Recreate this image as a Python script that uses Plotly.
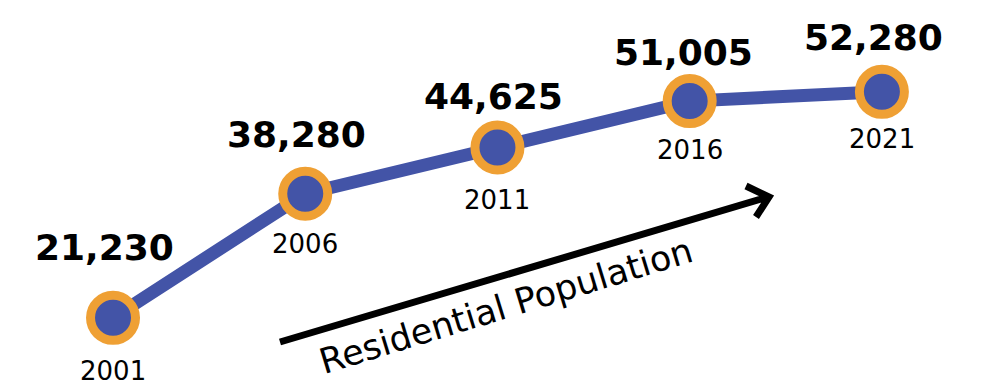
import plotly.graph_objects as go

years = [2001, 2006, 2011, 2016, 2021]
population = [21230, 38280, 44625, 51005, 52280]
value_labels = ["21,230", "38,280", "44,625", "51,005", "52,280"]
year_labels = ["2001", "2006", "2011", "2016", "2021"]

# label offsets (pixels) relative to each marker
value_yshift = [70, 59, 51, 49, 54]
value_xshift = [-9, -9, -4, -6, -8]
year_yshift = [-53, -50, -52, -49, -47]

W, H = 988, 388
BLUE = "#4354A7"
ORANGE = "#EFA034"
FONT = "DejaVu Sans"

fig = go.Figure()
fig.add_trace(go.Scatter(
    x=years, y=population, mode="lines+markers",
    line=dict(color=BLUE, width=13),
    marker=dict(size=45, color=BLUE, line=dict(color=ORANGE, width=9)),
    cliponaxis=False, hoverinfo="skip", showlegend=False,
))

annotations = []
for i, (yr, v) in enumerate(zip(years, population)):
    annotations.append(dict(
        x=yr, y=v, xref="x", yref="y", text=value_labels[i], showarrow=False,
        yshift=value_yshift[i], xshift=value_xshift[i],
        font=dict(family=FONT, size=36, color="#000000", weight="bold"),
    ))
    annotations.append(dict(
        x=yr, y=v, xref="x", yref="y", text=year_labels[i], showarrow=False,
        yshift=year_yshift[i],
        font=dict(family=FONT, size=26, color="#000000"),
    ))

annotations.append(dict(
    x=506 / W, y=1 - 306 / H, xref="paper", yref="paper",
    xanchor="center", yanchor="middle",
    text="Residential Population", showarrow=False, textangle=-17,
    font=dict(family=FONT, size=35, color="#000000"),
))

def px(x, y):
    return f"{x / W:.5f},{1 - y / H:.5f}"

arrow_path = (f"M {px(280, 342)} L {px(768, 197)} "
              f"M {px(746, 186)} L {px(769, 197)} L {px(756, 217)}")

fig.update_layout(
    width=W, height=H, autosize=False,
    margin=dict(l=0, r=0, t=0, b=0),
    paper_bgcolor="white", plot_bgcolor="white",
    xaxis=dict(range=[1998.06, 2023.76], visible=False, fixedrange=True),
    yaxis=dict(range=[11593, 64891], visible=False, fixedrange=True),
    annotations=annotations,
    shapes=[dict(type="path", xref="paper", yref="paper", path=arrow_path,
                 line=dict(color="#000000", width=7))],
)

fig.write_html("out.html")
